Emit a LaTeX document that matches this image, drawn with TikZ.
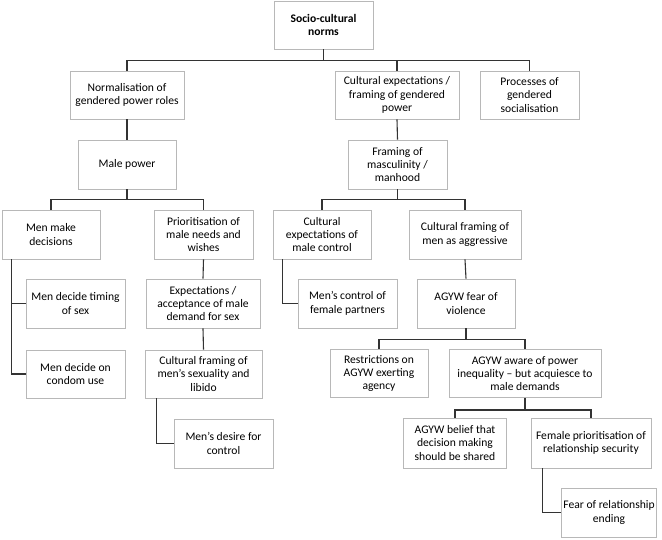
\documentclass[tikz,border=0pt]{standalone}
\usepackage{fontspec}
\setmainfont{Carlito}
\begin{document}
\begin{tikzpicture}[x=1pt,y=-1pt,
  box/.style={draw=black!28,line width=0.9pt,fill=white,align=center,inner sep=1pt,
    font=\fontsize{11.6}{13.4}\selectfont},
  conn/.style={draw=black!80,line width=1.1pt}]
\useasboundingbox (0,0) rectangle (662,539);
\newcommand{\bx}[6]{\node[box,minimum width=#4,minimum height=#5] (#1) at (#2,#3) {#6};}
\bx{top}{323.5}{25}{99}{48}{\textbf{Socio-cultural}\\\textbf{norms}}
\bx{norm}{127}{95}{114}{48}{Normalisation of\\gendered power roles}
\bx{cultexp}{397}{95}{124}{48}{Cultural expectations /\\framing of gendered\\power}
\bx{proc}{529.5}{95}{99}{48}{Processes of\\gendered\\socialisation}
\bx{malepower}{127}{164.5}{98}{49}{Male power}
\bx{framing}{397.5}{164.5}{99}{49}{Framing of\\masculinity /\\manhood}
\bx{menmake}{51}{234.5}{98}{49}{Men make\\decisions}
\bx{prior}{203.5}{234.5}{99}{49}{Prioritisation of\\male needs and\\wishes}
\bx{cexpmale}{322}{234.5}{98}{49}{Cultural\\expectations of\\male control}
\bx{aggr}{465}{234.5}{112}{49}{Cultural framing of\\men as aggressive}
\bx{timing}{75.5}{303.5}{99}{49}{Men decide timing\\of sex}
\bx{expect}{203}{303.5}{114}{49}{Expectations /\\acceptance of male\\demand for sex}
\bx{control}{347.5}{303.5}{99}{49}{Men’s control of\\female partners}
\bx{fear}{466}{303.5}{98}{49}{AGYW fear of\\violence}
\bx{condom}{75.5}{374}{99}{48}{Men decide on\\condom use}
\bx{sexual}{203.5}{374}{117}{48}{Cultural framing of\\men’s sexuality and\\libido}
\bx{restr}{379}{373.5}{98}{48}{Restrictions on\\AGYW exerting\\agency}
\bx{aware}{525}{373.5}{152}{48}{AGYW aware of power\\inequality – but acquiesce to\\male demands}
\bx{desire}{223.5}{443.5}{99}{49}{Men’s desire for\\control}
\bx{belief}{455}{443}{103}{50}{AGYW belief that\\decision making\\should be shared}
\bx{femprior}{591}{443}{120}{50}{Female prioritisation of\\relationship security}
\bx{fearend}{609}{512.5}{95}{49}{Fear of relationship\\ending}
% connectors
\draw[conn] (top.south) -- ++(0,11) coordinate (h1);
\draw[conn] (norm.north) |- (h1) -| (proc.north);
\draw[conn] (cultexp.north) -- (cultexp.north |- h1);
\draw[conn] (norm.south) -- (malepower.north);
\draw[conn] (cultexp.south) -- (framing.north);
\draw[conn] (malepower.south) -- ++(0,10) coordinate (h2);
\draw[conn] (menmake.north) |- (h2) -| (prior.north);
\draw[conn] (framing.south) -- ++(0,10) coordinate (h3);
\draw[conn] (cexpmale.north) |- (h3) -| (aggr.north);
\draw[conn] ([xshift=10]menmake.south west) |- (condom.west);
\draw[conn] ([xshift=10]menmake.south west |- timing.west) -- (timing.west);
\draw[conn] (prior.south) -- (expect.north);
\draw[conn] (expect.south) -- (sexual.north);
\draw[conn] ([xshift=12]sexual.south west) |- (desire.west);
\draw[conn] ([xshift=10]cexpmale.south west) |- (control.west);
\draw[conn] (aggr.south) -- (fear.north);
\draw[conn] (fear.south) -- ++(0,11) coordinate (h4);
\draw[conn] (restr.north) |- (h4) -| (aware.north);
\draw[conn] (aware.south) -- ++(0,12) coordinate (h5);
\draw[conn] (belief.north) |- (h5) -| (femprior.north);
\draw[conn] ([xshift=12]femprior.south west) |- (fearend.west);
\end{tikzpicture}
\end{document}
